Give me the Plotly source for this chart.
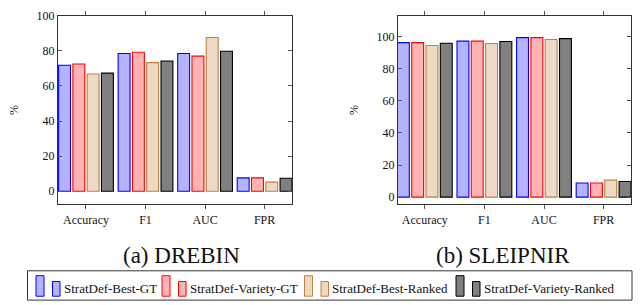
import plotly.graph_objects as go

categories = ["Accuracy", "F1", "AUC", "FPR"]
series_names = ["StratDef-Best-GT", "StratDef-Variety-GT",
                "StratDef-Best-Ranked", "StratDef-Variety-Ranked"]

drebin_best_gt = [71.8, 78.5, 78.5, 7.6]
drebin_variety_gt = [72.5, 79.2, 77.0, 7.6]
drebin_best_ranked = [66.8, 73.3, 87.6, 5.2]
drebin_variety_ranked = [67.3, 74.2, 79.8, 7.4]

sleipnir_best_gt = [96.3, 97.2, 99.4, 8.8]
sleipnir_variety_gt = [96.3, 97.2, 99.4, 8.8]
sleipnir_best_ranked = [94.5, 95.7, 98.2, 10.6]
sleipnir_variety_ranked = [95.9, 97.0, 98.8, 9.7]

y_ticks = [0, 20, 40, 60, 80, 100]
panel_titles = ["(a) DREBIN", "(b) SLEIPNIR"]

fills = ["rgb(179,179,255)", "rgb(255,179,179)", "rgb(236,217,198)", "rgb(128,128,128)"]
edges = ["rgb(0,0,255)", "rgb(255,0,0)", "rgb(191,128,64)", "rgb(0,0,0)"]
offsets = [-0.46, -0.22, 0.02, 0.26]
BAR_W = 0.2

# legend layout (pixel positions of each entry's first glyph)
legend_entry_x = [36, 162, 304.5, 456]

FONT = "Liberation Serif, Times New Roman, serif"
W, H = 641, 305

fig = go.Figure()
panels = [
    [drebin_best_gt, drebin_variety_gt, drebin_best_ranked, drebin_variety_ranked],
    [sleipnir_best_gt, sleipnir_variety_gt, sleipnir_best_ranked, sleipnir_variety_ranked],
]
xidx = [0, 1, 2, 3]
for p, data in enumerate(panels):
    xa = "x" if p == 0 else "x2"
    ya = "y" if p == 0 else "y2"
    for i, vals in enumerate(data):
        fig.add_trace(go.Bar(
            x=xidx, y=vals, name=series_names[i],
            width=BAR_W, offset=offsets[i],
            marker=dict(color=fills[i], line=dict(color=edges[i], width=1.1)),
            xaxis=xa, yaxis=ya, showlegend=False,
        ))

def px_x(a, b):
    return [a / W, b / W]

def px_y(top, bottom):
    return [1 - bottom / H, 1 - top / H]

def fx(px):
    return px / W

def fy(py):
    return 1 - py / H

axis_common = dict(
    showline=True, linecolor="#333", linewidth=1, mirror="ticks",
    showgrid=False, zeroline=False,
    tickfont=dict(family=FONT, size=12, color="#111"),
    tickcolor="#555", ticklen=4, tickwidth=1,
)

shapes = [dict(type="rect", xref="paper", yref="paper",
               x0=fx(27.5), x1=fx(632), y0=fy(300), y1=fy(270),
               line=dict(color="#333", width=1), fillcolor="white", layer="below")]
annotations = []
for i, x0 in enumerate(legend_entry_x):
    shapes.append(dict(type="rect", xref="paper", yref="paper",
                       x0=fx(x0), x1=fx(x0 + 8), y0=fy(296), y1=fy(275),
                       line=dict(color=edges[i], width=1), fillcolor=fills[i]))
    shapes.append(dict(type="rect", xref="paper", yref="paper",
                       x0=fx(x0 + 16.5), x1=fx(x0 + 24), y0=fy(296), y1=fy(281),
                       line=dict(color=edges[i], width=1), fillcolor=fills[i]))
    annotations.append(dict(text=series_names[i], x=fx(x0 + 25.5), y=fy(288.5),
                            xref="paper", yref="paper", showarrow=False,
                            xanchor="left", yanchor="middle",
                            font=dict(family=FONT, size=13, color="#111")))

for k, cx in enumerate([181, 503]):
    annotations.append(dict(text=panel_titles[k], x=fx(cx), y=fy(254),
                            xref="paper", yref="paper", showarrow=False,
                            xanchor="center", yanchor="middle",
                            font=dict(family=FONT, size=23, color="#111")))

fig.update_layout(
    width=W, height=H,
    margin=dict(l=0, r=0, t=0, b=0),
    paper_bgcolor="white", plot_bgcolor="white",
    barmode="overlay", showlegend=False,
    font=dict(family=FONT, color="#111"),
    xaxis=dict(domain=px_x(58, 292), range=[-0.47, 3.46], anchor="y",
               tickvals=xidx, ticktext=categories, ticks="outside", **axis_common),
    yaxis=dict(domain=px_y(9, 202), range=[-7.5, 100], anchor="x",
               tickvals=y_ticks, ticks="inside",
               title=dict(text="%", standoff=15, font=dict(family=FONT, size=12)),
               **axis_common),
    xaxis2=dict(domain=px_x(398, 631), range=[-0.45, 3.46], anchor="y2",
                tickvals=xidx, ticktext=categories, ticks="outside", **axis_common),
    yaxis2=dict(domain=px_y(9, 202), range=[-4.5, 113], anchor="x2",
                tickvals=y_ticks, ticks="inside",
                title=dict(text="%", standoff=15, font=dict(family=FONT, size=12)),
                **axis_common),
    shapes=shapes,
    annotations=annotations,
)

fig.write_html("out.html", config={"displayModeBar": False},
               post_script="document.body.style.margin='0px';document.body.style.overflow='hidden';")
